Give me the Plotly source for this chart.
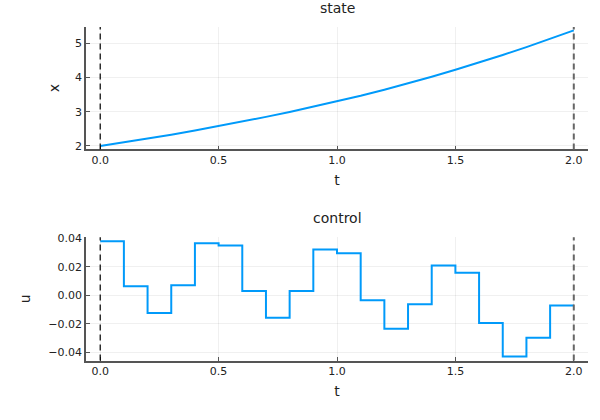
import plotly.graph_objects as go

# state trajectory, sampled every 0.1
t_state = [0.0, 0.1, 0.2, 0.3, 0.4, 0.5, 0.6, 0.7, 0.8, 0.9, 1.0,
           1.1, 1.2, 1.3, 1.4, 1.5, 1.6, 1.7, 1.8, 1.9, 2.0]
x_state = [2.00, 2.105, 2.215, 2.33, 2.45, 2.58, 2.71, 2.85, 2.995, 3.15, 3.30,
           3.47, 3.645, 3.83, 4.025, 4.23, 4.44, 4.66, 4.89, 5.13, 5.38]

# piecewise constant control, one value per 0.1 interval
t_ctrl = [0.0, 0.1, 0.2, 0.3, 0.4, 0.5, 0.6, 0.7, 0.8, 0.9,
          1.0, 1.1, 1.2, 1.3, 1.4, 1.5, 1.6, 1.7, 1.8, 1.9]
u_ctrl = [0.038, 0.0063, -0.0125, 0.007, 0.0365, 0.0349, 0.003, -0.0158, 0.003, 0.0321,
          0.0295, -0.0035, -0.0235, -0.0063, 0.0209, 0.0158, -0.0195, -0.043, -0.0298, -0.0072]

t_bounds = [0.0, 2.0]

x_ticks = [0.0, 0.5, 1.0, 1.5, 2.0]
x_ticklabels = ['0.0', '0.5', '1.0', '1.5', '2.0']
state_ticks = [2, 3, 4, 5]
ctrl_ticks = [-0.04, -0.02, 0.0, 0.02, 0.04]
ctrl_ticklabels = ['\u22120.04', '\u22120.02', '0.00', '0.02', '0.04']

blue = '#009AFA'
font = 'DejaVu Sans'
txt = '#222222'

W, H = 600, 420


def px(x):
    return x / W


def py(y):
    return 1 - y / H


fig = go.Figure()

fig.add_trace(go.Scatter(x=t_state, y=x_state, mode='lines', line=dict(color=blue, width=2),
                         xaxis='x', yaxis='y', showlegend=False))
# extend last step to the final time
fig.add_trace(go.Scatter(x=t_ctrl + [t_bounds[1]], y=u_ctrl + [u_ctrl[-1]], mode='lines',
                         line=dict(color=blue, width=2, shape='hv'),
                         xaxis='x2', yaxis='y2', showlegend=False))

# dashed time bounds
for xa, ya in [('x', 'y'), ('x2', 'y2')]:
    fig.add_shape(type='line', xref=xa, yref=ya + ' domain', x0=t_bounds[0], x1=t_bounds[0],
                  y0=0, y1=1, line=dict(color='black', width=1.2, dash='6px,4px'))
    fig.add_shape(type='line', xref=xa, yref=ya + ' domain', x0=t_bounds[1], x1=t_bounds[1],
                  y0=0, y1=1, line=dict(color='#666666', width=2, dash='6px,4px'))

xdom = [px(86), px(588)]
common_x = dict(range=[-0.06, 2.06], tickvals=x_ticks, ticktext=x_ticklabels,
                showgrid=True, gridcolor='rgba(0,0,0,0.06)', gridwidth=1, zeroline=False,
                showline=True, linecolor='#555555', linewidth=1.5, mirror=False,
                ticks='inside', ticklen=4, tickcolor='#555555', automargin=False,
                tickfont=dict(family=font, size=11, color=txt),
                title=dict(text='t', font=dict(family=font, size=14, color=txt), standoff=9),
                domain=xdom)
common_y = dict(showgrid=True, gridcolor='rgba(0,0,0,0.06)', gridwidth=1, zeroline=False,
                showline=True, linecolor='#555555', linewidth=1.5, automargin=False,
                ticks='inside', ticklen=4, tickcolor='#555555',
                tickfont=dict(family=font, size=11, color=txt))

fig.update_layout(
    width=W, height=H,
    margin=dict(l=0, r=0, t=0, b=0),
    paper_bgcolor='white', plot_bgcolor='white',
    font=dict(family=font, color=txt),
    xaxis=dict(common_x, anchor='y'),
    yaxis=dict(common_y, domain=[py(149.4), py(26.9)], range=[1.9, 5.48],
               tickvals=state_ticks, anchor='x',
               title=dict(text='x', font=dict(family=font, size=14, color=txt), standoff=12)),
    xaxis2=dict(common_x, anchor='y2'),
    yaxis2=dict(common_y, domain=[py(360.5), py(237.3)], range=[-0.0458, 0.0407],
                tickvals=ctrl_ticks, ticktext=ctrl_ticklabels, anchor='x2',
                title=dict(text='u', font=dict(family=font, size=14, color=txt), standoff=14)),
    annotations=[
        dict(text='state', x=(xdom[0] + xdom[1]) / 2, y=py(8), xref='paper', yref='paper',
             showarrow=False, font=dict(family=font, size=14, color=txt), yanchor='middle'),
        dict(text='control', x=(xdom[0] + xdom[1]) / 2, y=py(218), xref='paper', yref='paper',
             showarrow=False, font=dict(family=font, size=14, color=txt), yanchor='middle'),
    ],
)

# drop the default page margin so the figure sits at the window's corner
fig.write_html('out.html', config={'displayModeBar': False},
               post_script="document.body.style.margin='0';")
